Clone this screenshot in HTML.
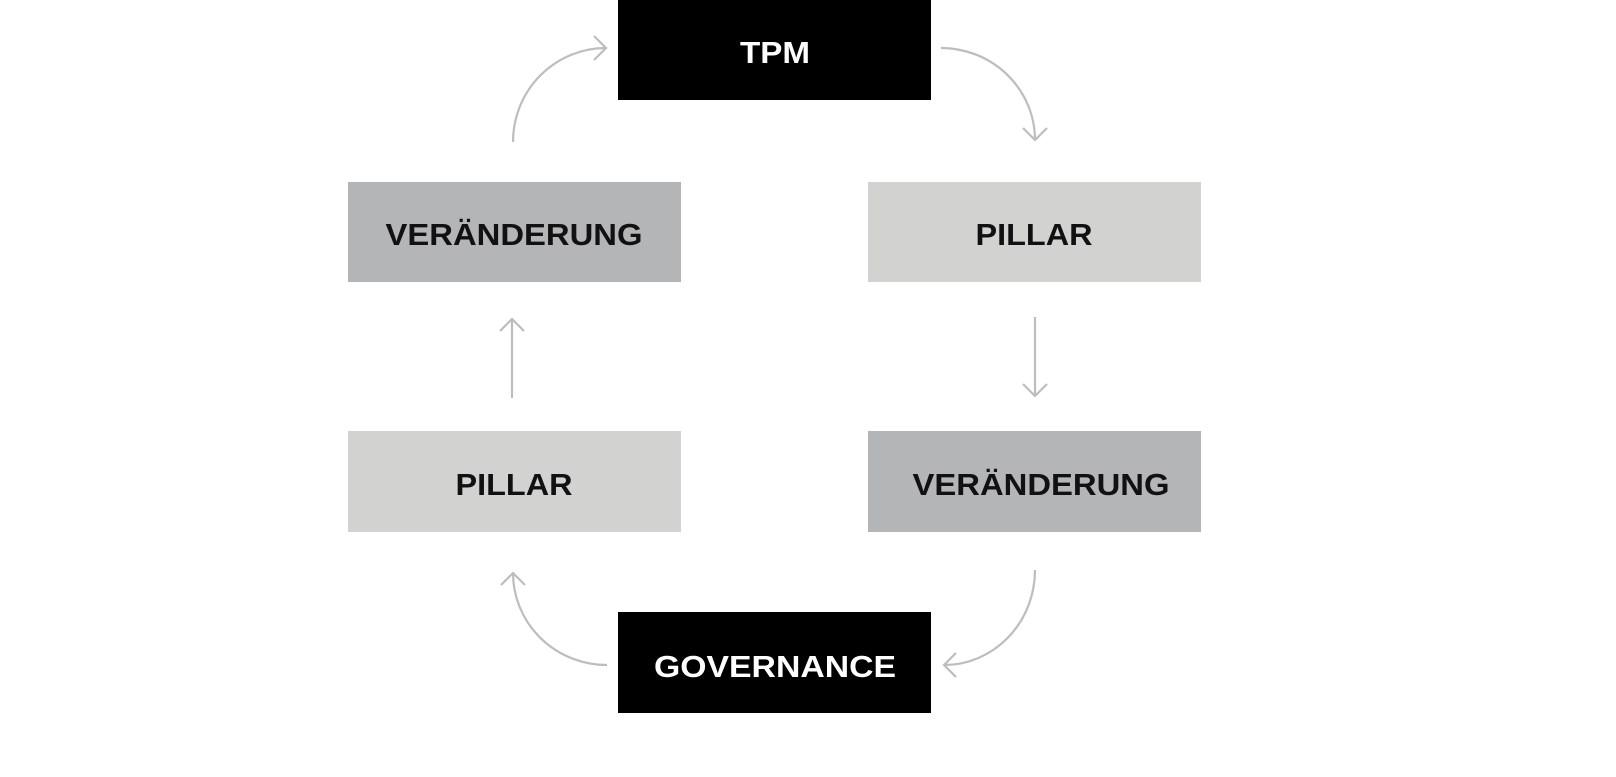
<!DOCTYPE html>
<html><head><meta charset="utf-8"><style>
html,body{margin:0;padding:0;background:#fff;}
svg{display:block;}
text{font-family:"Liberation Sans",sans-serif;font-weight:bold;font-size:31px;}
</style></head><body>
<svg width="1616" height="777" viewBox="0 0 1616 777" xmlns="http://www.w3.org/2000/svg">
<rect x="618" y="0" width="313" height="100" fill="#000"/>
<rect x="348" y="182" width="333" height="100" fill="#b4b5b7"/>
<rect x="868" y="182" width="333" height="100" fill="#d2d3d1"/>
<rect x="348" y="431" width="333" height="101" fill="#d2d3d1"/>
<rect x="868" y="431" width="333" height="101" fill="#b4b5b7"/>
<rect x="618" y="612" width="313" height="101" fill="#000"/>

<text x="775" y="63" fill="#fff" text-anchor="middle" textLength="70" lengthAdjust="spacingAndGlyphs">TPM</text>
<text x="514" y="245" fill="#111" text-anchor="middle" textLength="257" lengthAdjust="spacingAndGlyphs">VERÄNDERUNG</text>
<text x="1034" y="245" fill="#111" text-anchor="middle" textLength="117" lengthAdjust="spacingAndGlyphs">PILLAR</text>
<text x="514" y="495" fill="#111" text-anchor="middle" textLength="117" lengthAdjust="spacingAndGlyphs">PILLAR</text>
<text x="1041" y="495" fill="#111" text-anchor="middle" textLength="257" lengthAdjust="spacingAndGlyphs">VERÄNDERUNG</text>
<text x="775" y="677" fill="#fff" text-anchor="middle" textLength="242" lengthAdjust="spacingAndGlyphs">GOVERNANCE</text>

<g fill="none" stroke="#bcbdbd" stroke-width="2.2">
<path d="M513 142 A93 94 0 0 1 606 48"/><path d="M594 36 L606 48 L594 60"/>
<path d="M941 48 A94 92 0 0 1 1035 140"/><path d="M1023 128 L1035 140 L1047 128"/>
<path d="M1035 317 L1035 396"/><path d="M1023 384 L1035 396 L1047 384"/>
<path d="M512 398 L512 319"/><path d="M500 331 L512 319 L524 331"/>
<path d="M1035 570 A91 95 0 0 1 944 665"/><path d="M956 653 L944 665 L956 677"/>
<path d="M607 665 A94 92 0 0 1 513 573"/><path d="M501 585 L513 573 L525 585"/>
</g>
</svg>
</body></html>
